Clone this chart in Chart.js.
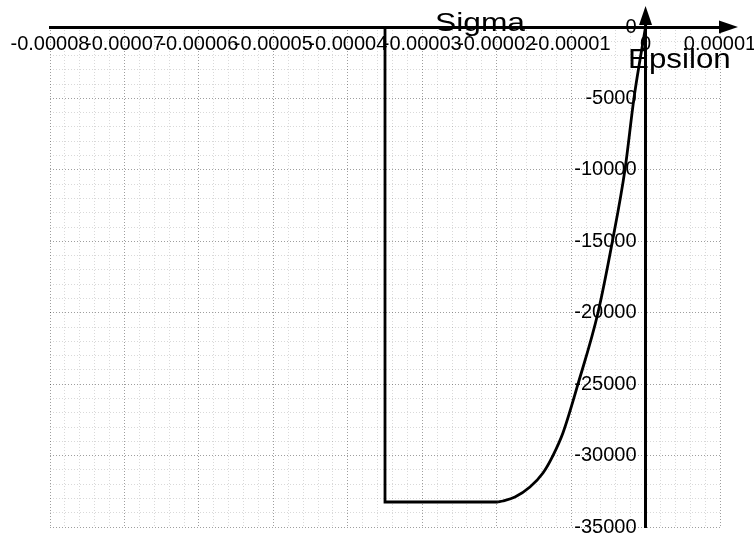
<!DOCTYPE html>
<html><head><meta charset="utf-8">
<script src="https://cdn.jsdelivr.net/npm/chart.js@4/dist/chart.umd.min.js"></script>
<style>html,body{margin:0;padding:0;background:#fff}#wrap{width:754px;height:535px;position:relative}</style>
</head><body><div id="wrap"><canvas id="c"></canvas></div>
<script>
// ---- data ----
const curveEpsilon = [-0.00001983, -0.00001916, -0.00001754, -0.00001553, -0.00001378, -0.00001244, -0.0000111, -0.00000908, -0.00000639, -0.00000445, -0.00000277, -0.00000156, -0.00000075, 0];
const curveSigma   = [-33250, -33180, -32900, -32200, -31220, -30000, -28420, -25000, -20000, -15000, -10000, -5000, -2310, 0];
const plateauEpsilon = [-0.00001983, -0.000035, -0.000035];
const plateauSigma   = [-33250, -33250, 0];
const xTickValues = [-0.00008, -0.00007, -0.00006, -0.00005, -0.00004, -0.00003, -0.00002, -0.00001, 0, 0.00001];
const xTickLabels = ['-0.00008', '-0.00007', '-0.00006', '-0.00005', '-0.00004', '-0.00003', '-0.00002', '-0.00001', '0', '0.00001'];
const yTickValues = [0, -5000, -10000, -15000, -20000, -25000, -30000, -35000];
const yTickLabels = ['0', '-5000', '-10000', '-15000', '-20000', '-25000', '-30000', '-35000'];
const xTitle = 'Epsilon';
const yTitle = 'Sigma';

function pts(xs, ys) { return xs.map((x, i) => ({x: x, y: ys[i]})); }
function xLabel(v) {
  for (let i = 0; i < xTickValues.length; i++) if (Math.abs(v - xTickValues[i]) < 1e-9) return xTickLabels[i];
  return '';
}
function yLabel(v) {
  for (let i = 0; i < yTickValues.length; i++) if (Math.abs(v - yTickValues[i]) < 1e-6) return yTickLabels[i];
  return '';
}
const FONT = "'Liberation Sans', Arial, sans-serif";
function noPad(scale) { scale.paddingLeft = 0; scale.paddingRight = 0; scale.paddingTop = 0; scale.paddingBottom = 0; }

// Y labels of an axis placed at x=0 get no padding from Chart.js; move them left a little.
const yLabelGap = {
  id: 'yLabelGap',
  beforeDraw(chart) {
    const items = chart.scales.y.getLabelItems();
    if (!items._shifted) {
      items.forEach(it => { if (it.options && it.options.translation) it.options.translation[0] -= 9; });
      items._shifted = true;
    }
  }
};

const axisDecor = {
  id: 'axisDecor',
  afterDraw(chart) {
    const ctx = chart.ctx;
    const xs = chart.scales.x, ys = chart.scales.y;
    const ox = xs.getPixelForValue(0), oy = ys.getPixelForValue(0);
    const right = chart.chartArea.right;
    ctx.save();
    ctx.fillStyle = '#000';
    ctx.strokeStyle = '#000';
    ctx.lineWidth = 3;
    ctx.beginPath();
    ctx.moveTo(right, oy); ctx.lineTo(right + 6, oy);
    ctx.moveTo(ox, oy); ctx.lineTo(ox, oy - 6);
    ctx.stroke();
    // x arrow
    ctx.beginPath();
    ctx.moveTo(right + 18, oy);
    ctx.lineTo(right - 1, oy - 6.5);
    ctx.lineTo(right - 1, oy + 6.5);
    ctx.closePath(); ctx.fill();
    // y arrow
    ctx.beginPath();
    ctx.moveTo(ox, oy - 21);
    ctx.lineTo(ox - 6.5, oy - 2);
    ctx.lineTo(ox + 6.5, oy - 2);
    ctx.closePath(); ctx.fill();
    // titles
    ctx.textBaseline = 'alphabetic';
    ctx.textAlign = 'left';
    ctx.font = '25px ' + FONT;
    ctx.save(); ctx.translate(435, 31); ctx.scale(1.27, 1); ctx.fillText(yTitle, 0, 0); ctx.restore();
    ctx.font = '27px ' + FONT;
    ctx.save(); ctx.translate(628, 68); ctx.scale(1.16, 1); ctx.fillText(xTitle, 0, 0); ctx.restore();
    ctx.restore();
  }
};

new Chart(document.getElementById('c'), {
  type: 'scatter',
  data: {
    datasets: [
      { data: pts(curveEpsilon, curveSigma), showLine: true, borderColor: '#000', borderWidth: 2.8,
        pointRadius: 0, cubicInterpolationMode: 'monotone', fill: false },
      { data: pts(plateauEpsilon, plateauSigma), showLine: true, borderColor: '#000', borderWidth: 2.8,
        pointRadius: 0, tension: 0, fill: false }
    ]
  },
  options: {
    responsive: true, maintainAspectRatio: false, animation: false,
    layout: { padding: { left: 50, right: 34, top: 27, bottom: 8 } },
    plugins: { legend: { display: false }, tooltip: { enabled: false } },
    scales: {
      x: {
        type: 'linear', min: -0.00008, max: 0.00001, position: { y: 0 },
        afterFit: noPad,
        ticks: { stepSize: 0.000002, autoSkip: false, maxRotation: 0, minRotation: 0, padding: 5,
                 color: '#000', font: { family: FONT, size: 20 }, callback: (v) => xLabel(v) },
        grid: { drawTicks: false, tickLength: 0,
                color: (c) => (c.tick && xLabel(c.tick.value) !== '') ? 'rgba(0,0,0,0.38)' : 'rgba(0,0,0,0.15)',
                lineWidth: 1 },
        border: { display: true, color: '#000', width: 3, dash: [1, 2] }
      },
      y: {
        type: 'linear', min: -35000, max: 0, position: { x: 0 },
        afterFit: noPad,
        ticks: { stepSize: 1000, autoSkip: false, padding: 10,
                 color: '#000', font: { family: FONT, size: 20 }, callback: (v) => yLabel(v) },
        grid: { drawTicks: false, tickLength: 0,
                color: (c) => (c.tick && yLabel(c.tick.value) !== '') ? 'rgba(0,0,0,0.38)' : 'rgba(0,0,0,0.15)',
                lineWidth: 1 },
        border: { display: true, color: '#000', width: 3, dash: [1, 2] }
      }
    }
  },
  plugins: [yLabelGap, axisDecor]
});
</script>
</body></html>
